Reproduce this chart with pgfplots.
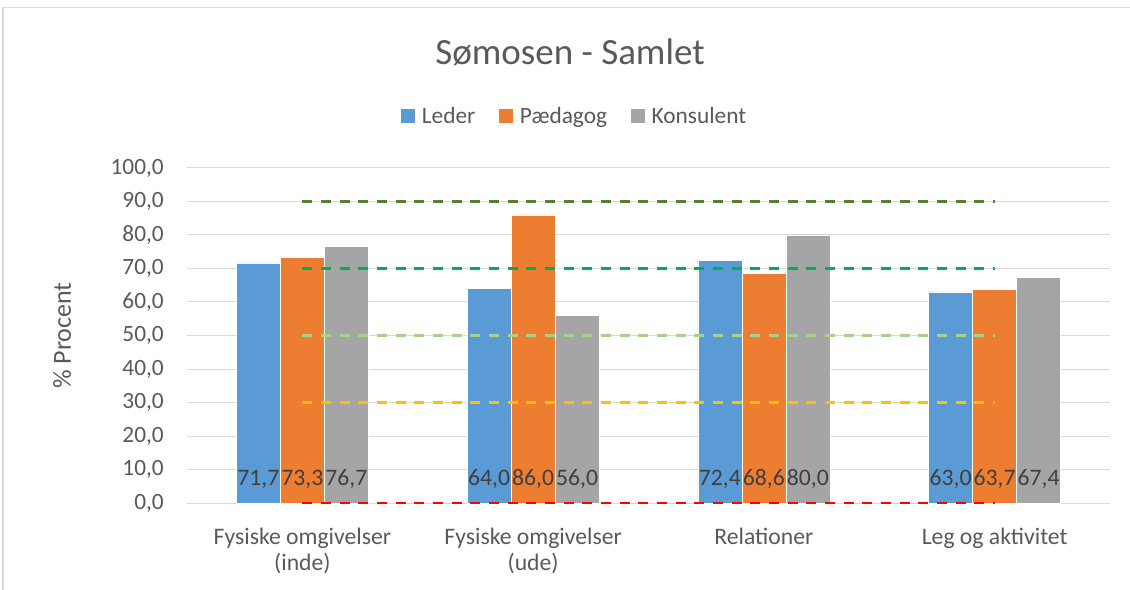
\documentclass[border=0pt]{standalone}
\usepackage{fontspec}
\setmainfont{Carlito}
\usepackage{pgfplots}
\pgfplotsset{compat=1.18}
\definecolor{cBlue}{HTML}{5B9BD5}
\definecolor{cOrange}{HTML}{ED7D31}
\definecolor{cGray}{HTML}{A5A5A5}
\definecolor{cText}{HTML}{595959}
\definecolor{cLab}{HTML}{404040}
\definecolor{cGrid}{HTML}{D9D9D9}
\definecolor{cDkGreen}{HTML}{548235}
\definecolor{cGreen}{HTML}{00B050}
\definecolor{cLtGreen}{HTML}{A9D18E}
\definecolor{cGold}{HTML}{FFC000}
\definecolor{cRed}{HTML}{FF0000}
\begin{document}
\begin{tikzpicture}
\useasboundingbox (-140.25pt,-64.5pt) rectangle (707.25pt,377.25pt);
\draw[cGrid, line width=1.1pt] (-138pt,-70pt) -- (-138pt,371.6pt) -- (712pt,371.6pt);
\begin{axis}[
  at={(0,0)}, anchor=south west,
  scale only axis, width=692.25pt, height=251.25pt,
  xmin=-0.5, xmax=3.5, ymin=0, ymax=100,
  xtick={0,1,2,3},
  xticklabels={{Fysiske omgivelser\\(inde)},{Fysiske omgivelser\\(ude)},{Relationer},{Leg og aktivitet}},
  ytick={0,10,...,100},
  ymajorgrids, grid style={cGrid, line width=0.75pt},
  axis line style={draw=none},
  major tick length=0pt,
  clip=false,
  /pgf/number format/assume math mode=true,
  yticklabel={\pgfmathprintnumber[fixed,fixed zerofill,precision=1,use comma]{\tick}},
  yticklabel style={inner sep=0pt, xshift=-17.25pt, text=cText, font=\fontsize{17.5pt}{21pt}\selectfont},
  xticklabel style={align=center, text=cText, yshift=-15pt, font=\fontsize{17.75pt}{20pt}\selectfont},
  ylabel={\% Procent},
  every axis y label/.style={at={(axis description cs:-0.1354,0.5)}, rotate=90, anchor=center, text=cText, font=\fontsize{19.5pt}{23pt}\selectfont},
  legend style={draw=none, fill=none, at={(0.4204,1.1552)}, anchor=center, legend columns=-1,
    text=cText, font=\fontsize{17.5pt}{21pt}\selectfont,
    /tikz/every even column/.append style={column sep=16pt}},
  bardata/.style={
    nodes near coords={\pgfmathprintnumber[fixed,fixed zerofill,precision=1,use comma]{\pgfplotspointmeta}},
    visualization depends on={y \as \rawy},
    every node near coord/.append style={shift={(axis direction cs:0,-\rawy)}, xshift=#1, anchor=base, yshift=13.5pt, inner sep=0pt, text=cLab, font=\fontsize{17.75pt}{21pt}\selectfont},
  },
  refline/.style={forget plot, line width=1.9pt, dash pattern=on 7.5pt off 6.5pt},
]
\addplot[ybar, bar width=33pt, bar shift=-33pt, fill=cBlue, draw=white, line width=0.4pt, bardata=-33pt,
  legend image code/.code={\fill[cBlue, draw=none] (0pt,-5.25pt) rectangle (10.5pt,5.25pt); \path[draw=none, fill=none] (0pt,0pt) -- (13.5pt,0pt);}]
  coordinates {(0,71.7) (1,64.0) (2,72.4) (3,63.0)};
\addlegendentry{Leder}
\addplot[ybar, bar width=33pt, bar shift=0pt, fill=cOrange, draw=white, line width=0.4pt, bardata=0pt,
  legend image code/.code={\fill[cOrange, draw=none] (0pt,-5.25pt) rectangle (10.5pt,5.25pt); \path[draw=none, fill=none] (0pt,0pt) -- (13.5pt,0pt);}]
  coordinates {(0,73.3) (1,86.0) (2,68.6) (3,63.7)};
\addlegendentry{Pædagog}
\addplot[ybar, bar width=33pt, bar shift=33pt, fill=cGray, draw=white, line width=0.4pt, bardata=33pt,
  legend image code/.code={\fill[cGray, draw=none] (0pt,-5.25pt) rectangle (10.5pt,5.25pt); \path[draw=none, fill=none] (0pt,0pt) -- (13.5pt,0pt);}]
  coordinates {(0,76.7) (1,56.0) (2,80.0) (3,67.4)};
\addlegendentry{Konsulent}
\addplot[refline, cDkGreen] coordinates {(0,90) (1,90) (2,90) (3,90)};
\addplot[refline, cGreen] coordinates {(0,70) (1,70) (2,70) (3,70)};
\addplot[refline, cLtGreen] coordinates {(0,50) (1,50) (2,50) (3,50)};
\addplot[refline, cGold] coordinates {(0,30) (1,30) (2,30) (3,30)};
\addplot[refline, cRed] coordinates {(0,0) (1,0) (2,0) (3,0)};
\end{axis}
\node[anchor=base, text=cText, font=\fontsize{27.75pt}{33pt}\selectfont] at (287.25pt,328.5pt) {Sømosen - Samlet};
\end{tikzpicture}
\end{document}
